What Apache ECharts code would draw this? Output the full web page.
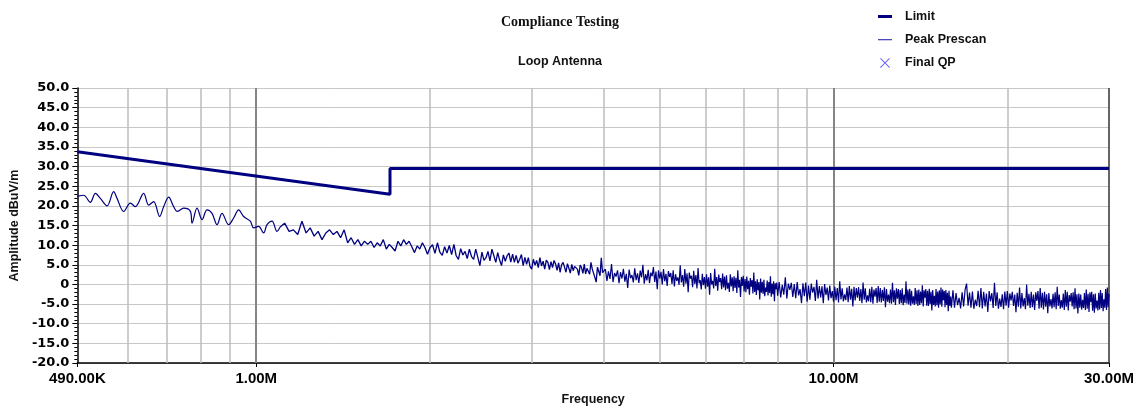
<!DOCTYPE html>
<html>
<head>
<meta charset="utf-8">
<script src="https://cdn.jsdelivr.net/npm/echarts@6/dist/echarts.min.js"></script>
<style>html,body{margin:0;padding:0;background:#fff}#c{width:1145px;height:411px}</style>
</head>
<body>
<div id="c"></div>
<script>
// ---- data (frequency in MHz, amplitude in dBuV/m) ----
const titleText = 'Compliance Testing';
const subtitleText = 'Loop Antenna';
const legendNames = ['Limit', 'Peak Prescan', 'Final QP'];

const limitFreqMHz = [0.49, 1.705, 1.705, 30];
const limitDb = [33.8, 22.97, 29.54, 29.54];

const prescanBelow1M = [[0.490,22.4],[0.5025,22.7],[0.516,20.9],[0.5265,23.2],[0.537,21.9],[0.5516,20.0],[0.5663,23.6],[0.574,21.9],[0.5894,18.6],[0.6053,20.7],[0.6175,19.8],[0.6383,23.2],[0.6512,20.2],[0.6643,21.1],[0.6804,17.3],[0.6913,19.8],[0.7052,22.2],[0.7194,19.8],[0.7293,18.6],[0.7487,19.4],[0.769,18.6],[0.7742,15.6],[0.7898,19.4],[0.8057,16.5],[0.8219,19.0],[0.8384,18.1],[0.8553,15.2],[0.8725,18.1],[0.8958,15.2],[0.9138,16.9],[0.9322,19.0],[0.951,17.3],[0.9767,16.1],[0.9897,14.4],[1.0096,14.8],[1.030,13.1],[1.044,15.2],[1.065,16.1],[1.0865,13.5]];

const prescan1to2M = [[1.10,14.6],[1.12,15.6],[1.14,13.5],[1.16,13.9],[1.18,12.7],[1.20,16.1],[1.22,13.1],[1.24,14.4],[1.26,12.3],[1.28,13.5],[1.30,11.4],[1.32,13.1],[1.34,13.9],[1.36,12.7],[1.38,13.5],[1.40,11.9],[1.42,13.9],[1.44,10.6],[1.46,11.9],[1.48,10.2],[1.50,11.4],[1.52,9.8],[1.54,11.0],[1.56,10.2],[1.58,11.0],[1.60,9.4],[1.62,10.6],[1.64,9.8],[1.66,11.4],[1.68,9.0],[1.70,10.2],[1.72,9.4],[1.74,8.5],[1.76,11.0],[1.78,9.8],[1.80,11.4],[1.82,10.2],[1.84,11.0],[1.86,9.6],[1.88,8.1],[1.90,9.8],[1.92,9.0],[1.94,10.6],[1.96,9.4],[1.98,7.7],[2.00,9.4]];

const prescan2to4M = [
[2.02,10.1],[2.04,7.9],[2.06,10.6],[2.08,8.2],[2.10,7.4],[2.12,9.6],[2.14,8.0],[2.16,9.9],[2.18,7.6],[2.20,10.2],
[2.22,7.3],[2.24,6.4],[2.26,9.1],[2.28,7.5],[2.30,8.4],[2.32,6.6],[2.34,9.0],[2.36,7.1],[2.38,6.4],[2.40,9.0],
[2.42,6.9],[2.44,4.8],[2.46,8.2],[2.48,6.1],[2.50,6.8],[2.52,8.4],[2.54,6.0],[2.56,9.0],[2.58,7.3],[2.60,5.6],
[2.62,8.1],[2.64,6.2],[2.66,4.8],[2.68,7.5],[2.70,5.9],[2.72,7.3],[2.74,8.0],[2.76,5.7],[2.78,7.7],[2.80,5.6],
[2.82,7.4],[2.84,5.4],[2.86,6.4],[2.88,7.6],[2.90,4.8],[2.92,6.9],[2.94,5.1],[2.96,6.8],[2.98,4.6],[3.00,3.9],
[3.02,6.4],[3.04,4.9],[3.06,6.1],[3.08,4.3],[3.10,6.8],[3.12,4.7],[3.14,5.9],[3.16,3.9],[3.18,6.2],[3.20,5.6],
[3.22,3.8],[3.24,5.8],[3.26,4.3],[3.28,6.1],[3.30,5.2],[3.32,3.6],[3.34,5.5],[3.36,3.1],[3.38,5.0],[3.40,5.6],
[3.42,4.4],[3.44,3.1],[3.46,5.3],[3.48,4.8],[3.50,2.9],[3.52,5.1],[3.54,3.5],[3.56,4.6],[3.58,5.0],[3.60,3.9],
[3.62,2.3],[3.64,4.9],[3.66,4.3],[3.68,2.8],[3.70,5.2],[3.72,2.7],[3.74,4.1],[3.76,4.5],[3.78,2.6],[3.80,5.6],
[3.82,3.9],[3.84,3.5],[3.86,1.8],[3.88,0.6],[3.90,4.4],[3.92,3.9],[3.94,2.2],[3.96,6.8],[3.98,3.0],[4.00,2.7]];

const prescan4to8M = [
[4.025,3.9],[4.05,0.9],[4.075,3.3],[4.1,1.4],[4.125,5.2],[4.15,0.6],[4.175,2.9],[4.2,2.0],[4.225,3.6],[4.25,0.3],
[4.275,3.1],[4.3,1.5],[4.325,4.0],[4.35,0.7],[4.375,2.7],[4.4,-0.9],[4.425,3.8],[4.45,1.6],[4.475,2.4],[4.5,0.5],
[4.525,4.1],[4.55,1.1],[4.575,2.8],[4.6,0.4],[4.625,3.5],[4.65,1.8],[4.675,5.0],[4.7,0.2],[4.725,2.6],[4.75,1.0],
[4.775,3.7],[4.8,0.3],[4.825,3.0],[4.85,2.1],[4.875,4.4],[4.9,0.6],[4.925,3.3],[4.95,-1.2],[4.975,3.6],[5.0,1.5],
[5.025,3.2],[5.05,0.0],[5.075,3.9],[5.1,0.8],[5.125,2.7],[5.15,-0.4],[5.175,3.4],[5.2,1.9],[5.225,2.9],[5.25,0.1],
[5.275,3.6],[5.3,-0.5],[5.325,2.6],[5.35,0.9],[5.375,1.8],[5.4,-0.1],[5.425,4.9],[5.45,0.5],[5.475,2.4],[5.5,-0.6],
[5.525,3.9],[5.55,0.2],[5.575,2.8],[5.6,-2.0],[5.625,3.0],[5.65,1.5],[5.675,2.2],[5.7,-0.7],[5.725,3.5],[5.75,0.1],
[5.775,2.4],[5.8,-1.0],[5.825,4.2],[5.85,0.3],[5.875,1.1],[5.9,-1.3],[5.925,2.7],[5.95,-0.2],[5.975,1.9],[6.0,-1.1],
[6.025,2.6],[6.05,-0.6],[6.075,1.8],[6.1,-2.6],[6.125,2.9],[6.15,0.0],[6.175,0.9],[6.2,-1.0],[6.225,4.0],[6.25,-0.4],
[6.275,1.9],[6.3,-1.6],[6.325,2.5],[6.35,0.6],[6.375,1.6],[6.4,-1.2],[6.425,2.8],[6.45,-0.8],[6.475,2.0],[6.5,-1.5],
[6.525,2.3],[6.55,-1.1],[6.575,0.4],[6.6,-1.9],[6.625,2.6],[6.65,-0.5],[6.675,1.8],[6.7,-1.7],[6.725,2.1],[6.75,-0.9],
[6.775,1.7],[6.8,-2.2],[6.825,3.6],[6.85,-0.8],[6.875,1.2],[6.9,-3.2],[6.925,1.9],[6.95,-0.4],[6.975,2.2],[7.0,-1.8],
[7.025,1.4],[7.05,-2.0],[7.075,2.0],[7.1,-1.2],[7.125,0.9],[7.15,-2.6],[7.175,1.6],[7.2,-0.6],[7.225,1.1],[7.25,-2.3],
[7.275,3.0],[7.3,-1.9],[7.325,0.8],[7.35,-2.7],[7.375,1.3],[7.4,-1.5],[7.425,0.6],[7.45,-3.8],[7.475,1.5],[7.5,-2.1],
[7.525,0.7],[7.55,-2.4],[7.575,1.2],[7.6,-3.0],[7.625,-0.8],[7.65,-1.9],[7.675,1.0],[7.7,-2.8],[7.725,0.6],[7.75,-2.2],
[7.775,2.1],[7.8,-3.1],[7.825,0.2],[7.85,-2.5],[7.875,0.8],[7.9,-4.3],[7.925,0.3],[7.95,-1.2],[7.975,0.5],[8.0,-2.9]];

const prescan8to16M = [
[8.05,0.6],[8.1,-3.3],[8.15,-0.1],[8.2,-2.6],[8.25,1.8],[8.3,-3.6],[8.35,0.2],[8.4,-1.4],[8.45,0.4],[8.5,-3.2],
[8.55,0.1],[8.6,-3.5],[8.65,0.6],[8.7,-2.8],[8.75,-1.2],[8.8,-4.8],[8.85,0.3],[8.9,-3.0],[8.95,0.5],[9.0,-4.4],
[9.05,-0.3],[9.1,-3.9],[9.15,0.2],[9.2,-2.1],[9.25,-0.6],[9.3,-4.2],[9.35,1.2],[9.4,-3.6],[9.45,-0.4],[9.5,-3.3],
[9.55,-0.5],[9.6,-4.8],[9.65,0.1],[9.7,-2.7],[9.75,-0.8],[9.8,-4.1],[9.85,-0.3],[9.9,-3.5],[9.95,-1.7],[10.0,-4.4],
[10.05,-0.6],[10.1,-4.0],[10.15,-0.9],[10.2,-4.6],[10.25,0.8],[10.3,-3.8],[10.35,-1.0],[10.4,-4.3],[10.45,-2.5],[10.5,-4.0],
[10.55,-0.8],[10.6,-4.5],[10.65,-0.4],[10.7,-3.9],[10.75,-1.1],[10.8,-5.6],[10.85,-0.6],[10.9,-4.1],[10.95,-0.9],[11.0,-3.4],
[11.05,-0.7],[11.1,-4.2],[11.15,-1.2],[11.2,-4.8],[11.25,0.5],[11.3,-3.9],[11.35,-1.0],[11.4,-4.6],[11.45,-2.8],[11.5,-4.3],
[11.55,-1.1],[11.6,-4.5],[11.65,-0.6],[11.7,-4.9],[11.75,-1.3],[11.8,-3.1],[11.85,-0.9],[11.9,-4.7],[11.95,-0.4],[12.0,-4.4],
[12.05,-0.9],[12.1,-4.6],[12.15,-1.4],[12.2,-4.2],[12.25,-0.7],[12.3,-5.8],[12.35,-1.2],[12.4,-4.4],[12.45,-2.6],[12.5,-4.8],
[12.55,-1.3],[12.6,-4.9],[12.65,0.4],[12.7,-4.5],[12.75,-1.5],[12.8,-5.2],[12.85,-1.0],[12.9,-3.6],[12.95,-1.2],[13.0,-5.0],
[13.05,-1.4],[13.1,-4.8],[13.15,-1.0],[13.2,-5.3],[13.25,-2.6],[13.3,-4.7],[13.35,0.8],[13.4,-4.9],[13.45,-1.3],[13.5,-5.1],
[13.55,-1.1],[13.6,-5.4],[13.65,-1.6],[13.7,-4.9],[13.75,-3.0],[13.8,-5.2],[13.85,-0.9],[13.9,-5.0],[13.95,-1.5],[14.0,-5.5],
[14.05,-1.3],[14.1,-5.2],[14.15,-1.8],[14.2,-4.8],[14.25,-0.2],[14.3,-5.6],[14.35,-1.5],[14.4,-3.4],[14.45,-1.2],[14.5,-5.4],
[14.55,-1.6],[14.6,-5.5],[14.65,-1.1],[14.7,-5.0],[14.75,-1.9],[14.8,-6.6],[14.85,-1.4],[14.9,-5.2],[14.95,-2.9],[15.0,-5.6],
[15.05,-1.2],[15.1,-5.3],[15.15,-1.8],[15.2,-5.9],[15.25,-1.5],[15.3,-5.1],[15.35,-0.8],[15.4,-5.7],[15.45,-1.3],[15.5,-4.0],
[15.55,-1.7],[15.6,-5.8],[15.65,-1.4],[15.7,-5.2],[15.75,-2.1],[15.8,-6.8],[15.85,-1.6],[15.9,-5.5],[15.95,-3.1],[16.0,-5.9]];

const prescan16to30M = [
[16.1,-1.5],[16.2,-5.9],[16.3,-2.2],[16.4,-5.3],[16.5,-3.4],[16.6,-6.1],[16.7,-2.0],[16.8,-5.6],[16.9,-1.3],[17.0,0.2],
[17.1,-5.4],[17.2,-2.1],[17.3,-5.9],[17.4,-1.8],[17.5,-6.2],[17.6,-3.9],[17.7,-5.5],[17.8,-1.6],[17.9,-5.8],[18.0,-0.9],
[18.1,-6.1],[18.2,-1.9],[18.3,-5.6],[18.4,-2.3],[18.5,-7.0],[18.6,-1.7],[18.7,-4.3],[18.8,-2.2],[18.9,-6.0],[19.0,0.4],
[19.1,-5.5],[19.2,-2.0],[19.3,-6.2],[19.4,-3.6],[19.5,-5.7],[19.6,-2.5],[19.7,-6.3],[19.8,-1.8],[19.9,-5.4],[20.0,-1.7],
[20.1,-5.9],[20.2,-2.3],[20.3,-4.1],[20.4,-1.9],[20.5,-5.5],[20.6,-2.6],[20.7,-7.1],[20.8,-2.1],[20.9,-5.7],[21.0,-0.8],
[21.1,-6.1],[21.2,-2.2],[21.3,-5.6],[21.4,-3.5],[21.5,-6.3],[21.6,0.0],[21.7,-5.4],[21.8,-2.4],[21.9,-6.0],[22.0,-1.9],
[22.1,-5.8],[22.2,-2.6],[22.3,-6.5],[22.4,-2.0],[22.5,-4.2],[22.6,-1.7],[22.7,-6.2],[22.8,-0.9],[22.9,-5.9],[23.0,-2.1],
[23.1,-6.4],[23.2,-1.9],[23.3,-5.7],[23.4,-2.5],[23.5,-7.3],[23.6,-2.2],[23.7,-5.6],[23.8,-3.7],[23.9,-6.1],[24.0,-2.4],
[24.1,-5.8],[24.2,-2.0],[24.3,-6.3],[24.4,-0.6],[24.5,-5.5],[24.6,-2.6],[24.7,-6.2],[24.8,-4.0],[24.9,-5.9],[25.0,-2.3],
[25.1,-6.5],[25.2,-1.4],[25.3,-5.7],[25.4,-1.9],[25.5,-6.6],[25.6,-2.7],[25.7,-4.4],[25.8,-2.2],[25.9,-5.6],[26.0,-2.0],
[26.1,-6.3],[26.2,-1.0],[26.3,-6.1],[26.4,-2.5],[26.5,-7.4],[26.6,-2.3],[26.7,-5.9],[26.8,-2.6],[26.9,-6.4],[27.0,-3.9],
[27.1,-6.0],[27.2,-2.2],[27.3,-6.5],[27.4,-1.3],[27.5,-6.2],[27.6,-2.4],[27.7,-7.0],[27.8,-2.0],[27.9,-4.5],[28.0,-1.9],
[28.1,-6.7],[28.2,-2.5],[28.3,-7.2],[28.4,-2.3],[28.5,-6.1],[28.6,-4.1],[28.7,-6.6],[28.8,-2.1],[28.9,-6.4],[29.0,-1.4],
[29.1,-6.0],[29.2,-2.2],[29.3,-6.8],[29.4,-3.8],[29.5,-5.9],[29.6,-1.2],[29.7,-6.5],[29.8,-0.8],[29.9,-5.8],[30.0,-2.4]];

const finalQP = [];

// axis ranges / grid positions (MHz)
const xMinMHz = 0.49, xMaxMHz = 30;
const yMin = -20, yMax = 50, yStep = 5;
const minorGridMHz = [0.6, 0.7, 0.8, 0.9, 2, 3, 4, 5, 6, 7, 8, 9, 20];
const majorGridMHz = [1, 10];

// ---- build ----
const MHz = 1e6;
const toHz = seg => seg.map(p => [p[0] * MHz, p[1]]);
const prescanLowData = [].concat(toHz(prescanBelow1M), toHz(prescan1to2M.slice(0, 1)));
const prescanMidData = [].concat(toHz(prescan1to2M), toHz(prescan2to4M), toHz(prescan4to8M.slice(0, 1)));
const prescanHighData = [].concat(toHz(prescan4to8M), toHz(prescan8to16M), toHz(prescan16to30M));
const limitData = limitFreqMHz.map((f, i) => [f * MHz, limitDb[i]]);

const navy = '#000080';
const boldSans = {fontFamily: 'Liberation Sans, Arial, sans-serif', fontWeight: 'bold', color: '#111'};

function fmtFreq(v) {
  const r = Math.round(v);
  if (r >= 1e6) return (r / 1e6).toFixed(2) + 'M';
  return (r / 1e3).toFixed(2) + 'K';
}

const gridLines = []
  .concat(minorGridMHz.map(f => ({xAxis: f * MHz, lineStyle: {color: '#bdbdbd', width: 1.5, type: 'solid'}})))
  .concat(majorGridMHz.map(f => ({xAxis: f * MHz, lineStyle: {color: '#858585', width: 2, type: 'solid'}})))
  .concat([{xAxis: xMaxMHz * MHz, lineStyle: {color: '#333', width: 1.5, type: 'solid'}}]);

const xPath = 'path://M0,0.7L0.7,0L5,4.3L9.3,0L10,0.7L5.7,5L10,9.3L9.3,10L5,5.7L0.7,10L0,9.3L4.3,5Z';

const chart = echarts.init(document.getElementById('c'), null, {renderer: 'canvas'});
chart.setOption({
  animation: false,
  backgroundColor: '#fff',
  graphic: [
    {type: 'text', x: 560, y: 22, style: {text: titleText, textAlign: 'center', textVerticalAlign: 'middle',
      font: 'bold 14px "Liberation Serif", "Times New Roman", serif', fill: '#111'}},
    {type: 'text', x: 560, y: 62, style: {text: subtitleText, textAlign: 'center', textVerticalAlign: 'middle',
      font: 'bold 12.5px "Liberation Sans", Arial, sans-serif', fill: '#111'}}
  ],
  legend: {
    orient: 'vertical', left: 873, top: 5,
    itemWidth: 14, itemHeight: 10, itemGap: 10.2,
    textStyle: Object.assign({fontSize: 12.5, padding: [0, 0, 0, 8]}, boldSans),
    data: [
      {name: legendNames[0], icon: 'path://M0,0H14V3H0Z'},
      {name: legendNames[1], icon: 'path://M0,0H14V1.1H0Z', itemStyle: {color: '#2a2ab0'}},
      {name: legendNames[2], icon: xPath}
    ]
  },
  grid: {left: 77, right: 36, top: 88, bottom: 44},
  xAxis: {
    type: 'log', logBase: 10, min: xMinMHz * MHz, max: xMaxMHz * MHz, splitNumber: 2,
    axisLine: {show: true, onZero: false, lineStyle: {color: '#000', width: 1.5}},
    axisTick: {show: true, length: 4, lineStyle: {color: '#000'}},
    axisLabel: {formatter: fmtFreq, fontSize: 15, margin: 8, color: '#000', showMinLabel: true, showMaxLabel: true,
      fontFamily: 'Liberation Sans, Arial, sans-serif', fontWeight: 'bold'},
    splitLine: {show: false},
    name: 'Frequency', nameLocation: 'middle', nameGap: 30,
    nameTextStyle: Object.assign({fontSize: 12.5}, boldSans)
  },
  yAxis: {
    type: 'value', min: yMin, max: yMax, interval: yStep,
    axisLine: {show: true, lineStyle: {color: '#000', width: 1.5}},
    axisTick: {show: true, length: 5, lineStyle: {color: '#000'}},
    minorTick: {show: true, splitNumber: 5, length: 3, lineStyle: {color: '#000'}},
    axisLabel: {formatter: v => (v === 0 ? '0' : v.toFixed(1)), fontFamily: 'DejaVu Sans, sans-serif', fontWeight: 'bold', fontSize: 13, color: '#000', margin: 8},
    splitLine: {show: true, lineStyle: {color: '#c8c8c8', width: 1}},
    name: 'Amplitude dBuV/m', nameLocation: 'middle', nameGap: 55, nameRotate: 90,
    nameTextStyle: Object.assign({fontSize: 12.5}, boldSans)
  },
  series: [
    {
      name: '_grid', type: 'line', data: [], silent: true, z: 1,
      markLine: {silent: true, z: 1, symbol: ['none', 'none'], animation: false, label: {show: false}, data: gridLines}
    },
    {
      name: legendNames[0], type: 'line', data: limitData, showSymbol: false, symbol: 'none', z: 4,
      lineStyle: {color: navy, width: 3}, itemStyle: {color: navy}
    },
    {
      name: legendNames[1], type: 'line', data: prescanLowData, showSymbol: false, symbol: 'none', z: 3,
      smooth: 0.35, sampling: 'none', lineStyle: {color: navy, width: 1.2}, itemStyle: {color: navy}
    },
    {
      name: legendNames[1], type: 'line', data: prescanMidData, showSymbol: false, symbol: 'none', z: 3,
      sampling: 'none', lineStyle: {color: navy, width: 1.3}, itemStyle: {color: navy}
    },
    {
      name: legendNames[1], type: 'line', data: prescanHighData, showSymbol: false, symbol: 'none', z: 3,
      sampling: 'none', lineStyle: {color: navy, width: 1.2}, itemStyle: {color: navy}
    },
    {
      name: legendNames[2], type: 'scatter', data: finalQP, z: 5,
      symbol: xPath, symbolSize: 10, itemStyle: {color: '#3636ff'}
    }
  ]
});
</script>
</body>
</html>
